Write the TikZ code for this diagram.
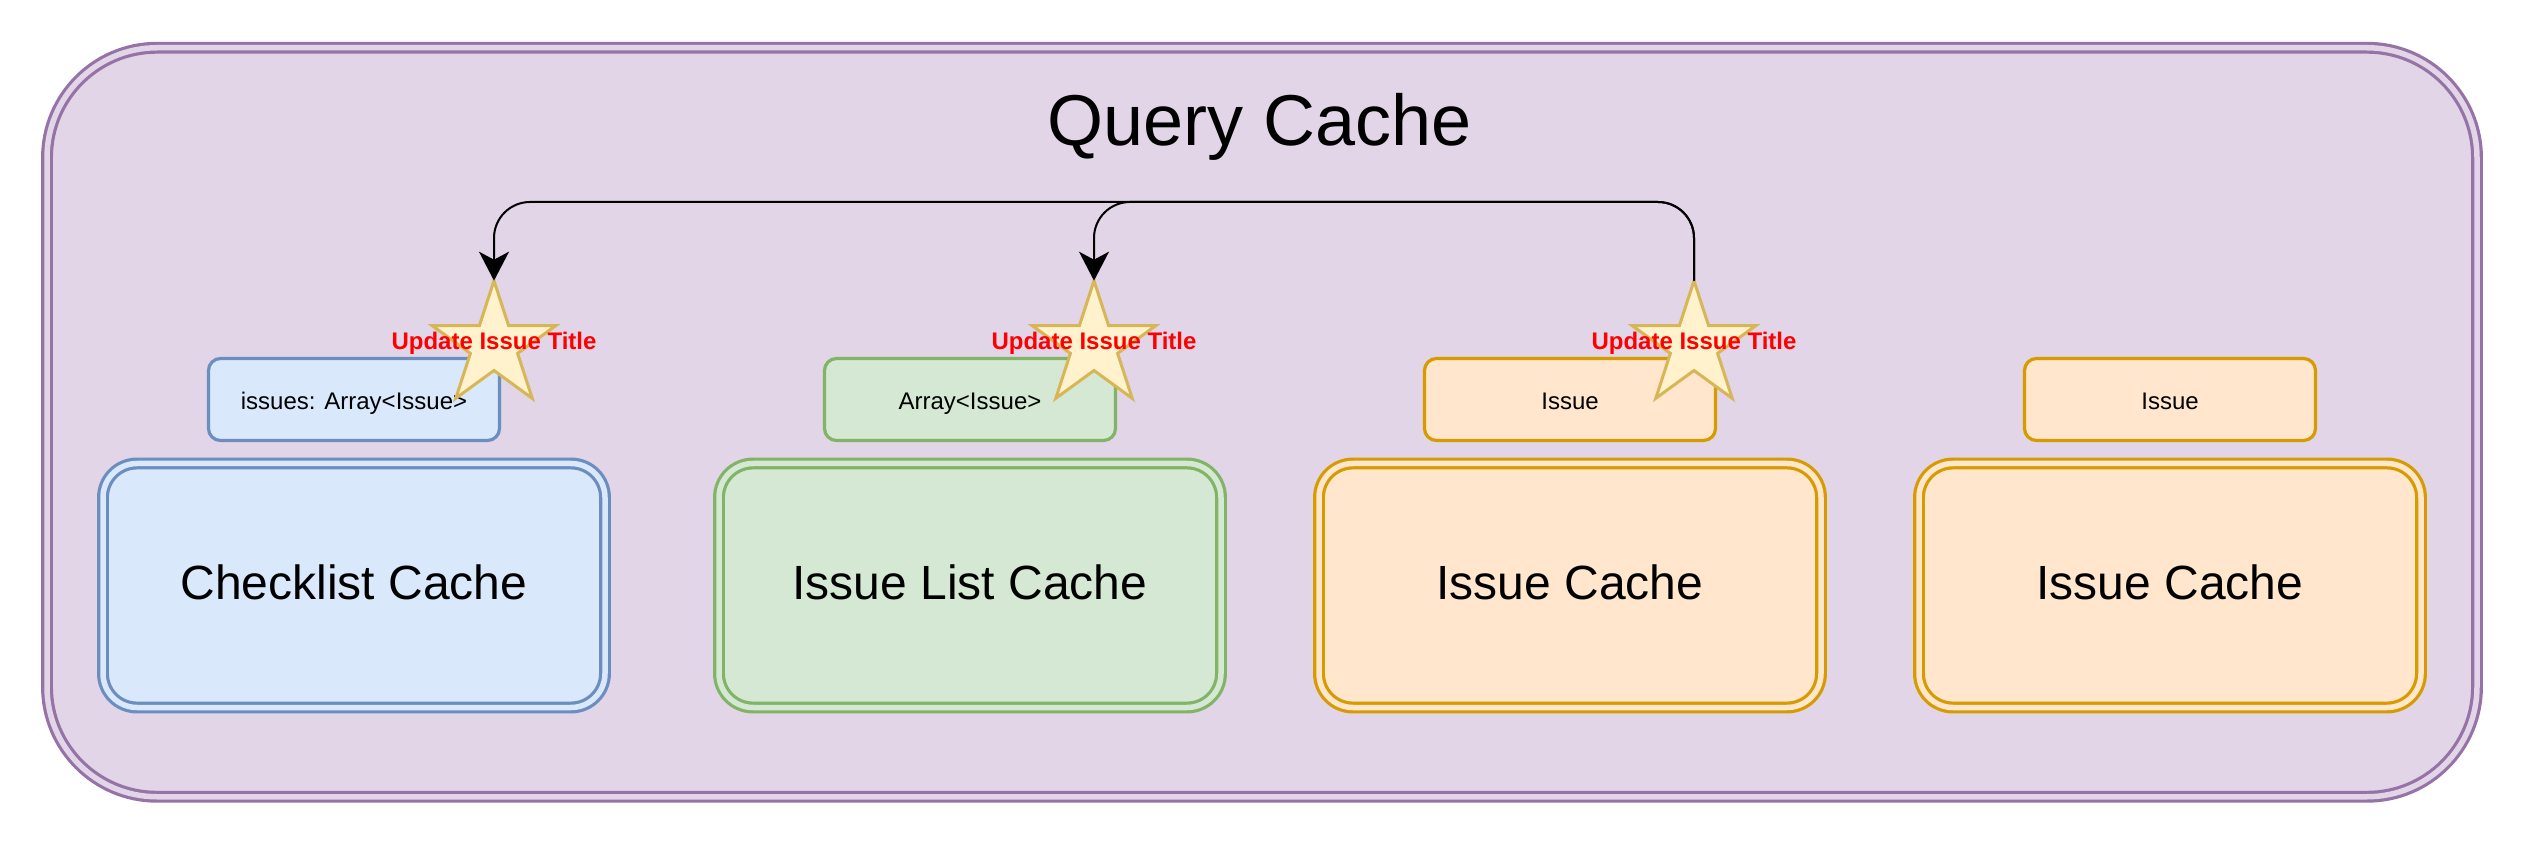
\documentclass[tikz,border=0pt]{standalone}
\usepackage{fontspec}
\setmainfont{Liberation Sans}
\usepackage{xcolor}
\usetikzlibrary{positioning, shapes.geometric, arrows.meta}

\definecolor{purpleline}{HTML}{9673A6}
\definecolor{purplefill}{HTML}{E1D5E7}
\definecolor{blueline}{HTML}{6C8EBF}
\definecolor{bluefill}{HTML}{DAE8FC}
\definecolor{greenline}{HTML}{82B366}
\definecolor{greenfill}{HTML}{D5E8D4}
\definecolor{orangeline}{HTML}{D79B00}
\definecolor{orangefill}{HTML}{FFE6CC}
\definecolor{starline}{HTML}{D6B656}
\definecolor{starfill}{HTML}{FFF2CC}

\begin{document}
\begin{tikzpicture}[x=0.5pt, y=-0.5pt, node distance=11.5pt, outer sep=0pt,
    >={Stealth[length=14.5pt, width=15pt, inset=4pt]},
    shell/.style = {draw=purpleline, fill=purplefill, double=purplefill, double distance=2.75pt, line width=1.6pt, rounded corners=55pt, minimum width=1215pt, minimum height=374.5pt},
    cache/.style = {draw=#1line, fill=#1fill, double=#1fill, double distance=2.75pt, line width=1.6pt, rounded corners=17pt, minimum width=251pt, minimum height=122pt, text height=14.5pt, text depth=0pt, font=\fontsize{24}{28}\selectfont},
    entry/.style = {draw=#1line, fill=#1fill, line width=1.6pt, rounded corners=6pt, minimum width=145.5pt, minimum height=41pt, text height=10.5pt, text depth=0pt, font=\fontsize{12}{14}\selectfont},
    burst/.style = {star, star points=5, star point ratio=2.618, minimum size=65pt, inner sep=0pt, draw=starline, fill=starfill, line width=1.5pt},
    hint/.style = {text=red, font=\fontsize{12}{14}\selectfont\bfseries, inner sep=0pt, anchor=base},
    flow/.style = {->, line width=1pt, rounded corners=18pt}]

    \fill[white] (0,0) rectangle (2524,844);
    \useasboundingbox (0,0) rectangle (2524,844);

    \node[shell] (qc) at (1262,422.25) {};
    \node[anchor=base, font=\fontsize{36}{42}\selectfont] (title) at (1260,146) {Query Cache};

    \node[cache=blue] (cl) at (354,585.5) {Checklist Cache};
    \node[cache=green] (il) at (970,585.5) {Issue List Cache};
    \node[cache=orange] (ic1) at (1570,585.5) {Issue Cache};
    \node[cache=orange] (ic2) at (2170,585.5) {Issue Cache};

    \node[entry=blue] (clv) [above=of cl] {issues: Array<Issue>};
    \node[entry=green] (ilv) [above=of il] {Array<Issue>};
    \node[entry=orange] (ic1v) [above=of ic1] {Issue};
    \node[entry=orange] (ic2v) [above=of ic2] {Issue};

    \node[burst] (s1) at (494,345.7) {};
    \node[burst] (s2) at (1094,345.7) {};
    \node[burst] (s3) at (1694,345.7) {};

    \node[hint, yshift=-1.8pt] (t1) at (s1) {Update Issue Title};
    \node[hint, yshift=-1.8pt] (t2) at (s2) {Update Issue Title};
    \node[hint, yshift=-1.8pt] (t3) at (s3) {Update Issue Title};

    \coordinate (bus) at (1262,202);
    \draw[flow] (s3.north) -- (s3.north |- bus) -- (s1.north |- bus) -- (s1.north);
    \draw[flow] (s3.north) -- (s3.north |- bus) -- (s2.north |- bus) -- (s2.north);
\end{tikzpicture}
\end{document}
